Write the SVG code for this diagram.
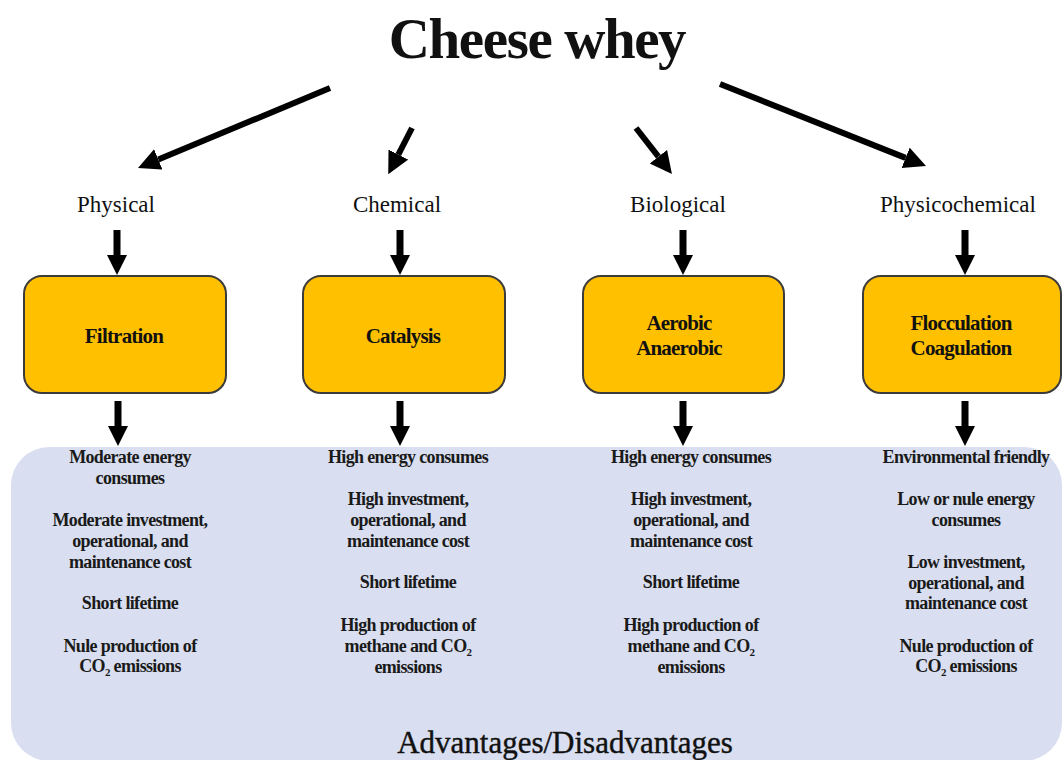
<svg xmlns="http://www.w3.org/2000/svg" xmlns:xlink="http://www.w3.org/1999/xlink" width="1064" height="760" viewBox="0 0 1064 760">
<style>
.t{font-family:"Liberation Serif","Times New Roman","DejaVu Serif",serif;fill:#111;text-anchor:middle}
.title{font-size:57px;font-weight:bold;letter-spacing:-1.4px}
.cat{font-size:23px}
.box{fill:#FFC000;stroke:#3b3b3b;stroke-width:2}
.bl{font-size:21px;font-weight:bold;letter-spacing:-0.8px}
.pt{font-size:18px;font-weight:bold;letter-spacing:-0.65px;fill:#1a1a1a}
.sub{font-size:11px}
.foot{font-size:31px;stroke:#111;stroke-width:0.4}
.conn{stroke:#000;stroke-width:6;fill:none;marker-end:url(#ah)}
.panel{fill:#D9DFF0}
</style>
<defs>
<marker id="ah" markerUnits="userSpaceOnUse" markerWidth="24" markerHeight="24" refX="0" refY="11" orient="auto">
<path d="M0,0 L22,11 L0,22 Z" fill="#000"/>
</marker>
<path id="darr" d="M-3.5,0 H3.5 V25 H10 L0,45 L-10,25 H-3.5 Z" fill="#000"/>
</defs>
<rect width="1064" height="760" fill="#fff"/>
<g id="panel">
<rect class="panel" x="11" y="447" width="1051" height="314" rx="38"/>
<text class="t foot" x="565" y="753">Advantages/Disadvantages</text>
</g>
<g id="title"><text class="t title" x="537" y="58">Cheese whey</text></g>
<g id="connectors">
<line class="conn" x1="330" y1="88" x2="158.3" y2="159.5"/>
<line class="conn" x1="412" y1="128" x2="398.3" y2="154.6"/>
<line class="conn" x1="636" y1="128" x2="658.4" y2="156.7"/>
<line class="conn" x1="720" y1="84" x2="905.6" y2="157.9"/>
<use xlink:href="#darr" href="#darr" x="117" y="230"/>
<use xlink:href="#darr" href="#darr" x="400" y="230"/>
<use xlink:href="#darr" href="#darr" x="683" y="230"/>
<use xlink:href="#darr" href="#darr" x="965" y="230"/>
<use xlink:href="#darr" href="#darr" x="118" y="401"/>
<use xlink:href="#darr" href="#darr" x="400" y="401"/>
<use xlink:href="#darr" href="#darr" x="683" y="401"/>
<use xlink:href="#darr" href="#darr" x="965" y="401"/>
</g>
<g id="cat-physical"><text class="t cat" x="116" y="212">Physical</text></g>
<g id="cat-chemical"><text class="t cat" x="397" y="212">Chemical</text></g>
<g id="cat-biological"><text class="t cat" x="678" y="212">Biological</text></g>
<g id="cat-physicochemical"><text class="t cat" x="958" y="212">Physicochemical</text></g>
<g id="box-filtration">
<rect class="box" x="24" y="276" width="202" height="117" rx="18"/>
<text class="t bl" x="124" y="343">Filtration</text>
</g>
<g id="box-catalysis">
<rect class="box" x="303" y="276" width="202" height="117" rx="18"/>
<text class="t bl" x="403" y="343">Catalysis</text>
</g>
<g id="box-biological">
<rect class="box" x="583" y="276" width="201" height="117" rx="18"/>
<text class="t bl" x="679" y="330">Aerobic</text>
<text class="t bl" x="679" y="355">Anaerobic</text>
</g>
<g id="box-physicochemical">
<rect class="box" x="863" y="276" width="198" height="117" rx="18"/>
<text class="t bl" x="961" y="330">Flocculation</text>
<text class="t bl" x="961" y="355">Coagulation</text>
</g>
<g id="col-physical">
<text class="t pt" x="130" y="463">Moderate energy</text>
<text class="t pt" x="130" y="484">consumes</text>
<text class="t pt" x="130" y="526">Moderate investment,</text>
<text class="t pt" x="130" y="547">operational, and</text>
<text class="t pt" x="130" y="568">maintenance cost</text>
<text class="t pt" x="130" y="609">Short lifetime</text>
<text class="t pt" x="130" y="652">Nule production of</text>
<text class="t pt" x="130" y="672">CO<tspan class="sub" dy="4">2</tspan><tspan dy="-4"> emissions</tspan></text>
</g>
<g id="col-chemical">
<text class="t pt" x="408" y="463">High energy consumes</text>
<text class="t pt" x="408" y="505">High investment,</text>
<text class="t pt" x="408" y="526">operational, and</text>
<text class="t pt" x="408" y="547">maintenance cost</text>
<text class="t pt" x="408" y="588">Short lifetime</text>
<text class="t pt" x="408" y="631">High production of</text>
<text class="t pt" x="408" y="652">methane and CO<tspan class="sub" dy="4">2</tspan></text>
<text class="t pt" x="408" y="673">emissions</text>
</g>
<g id="col-biological">
<text class="t pt" x="691" y="463">High energy consumes</text>
<text class="t pt" x="691" y="505">High investment,</text>
<text class="t pt" x="691" y="526">operational, and</text>
<text class="t pt" x="691" y="547">maintenance cost</text>
<text class="t pt" x="691" y="588">Short lifetime</text>
<text class="t pt" x="691" y="631">High production of</text>
<text class="t pt" x="691" y="652">methane and CO<tspan class="sub" dy="4">2</tspan></text>
<text class="t pt" x="691" y="673">emissions</text>
</g>
<g id="col-physicochemical">
<text class="t pt" x="966" y="463">Environmental friendly</text>
<text class="t pt" x="966" y="505">Low or nule energy</text>
<text class="t pt" x="966" y="526">consumes</text>
<text class="t pt" x="966" y="568">Low investment,</text>
<text class="t pt" x="966" y="589">operational, and</text>
<text class="t pt" x="966" y="609">maintenance cost</text>
<text class="t pt" x="966" y="652">Nule production of</text>
<text class="t pt" x="966" y="672">CO<tspan class="sub" dy="4">2</tspan><tspan dy="-4"> emissions</tspan></text>
</g>
</svg>
